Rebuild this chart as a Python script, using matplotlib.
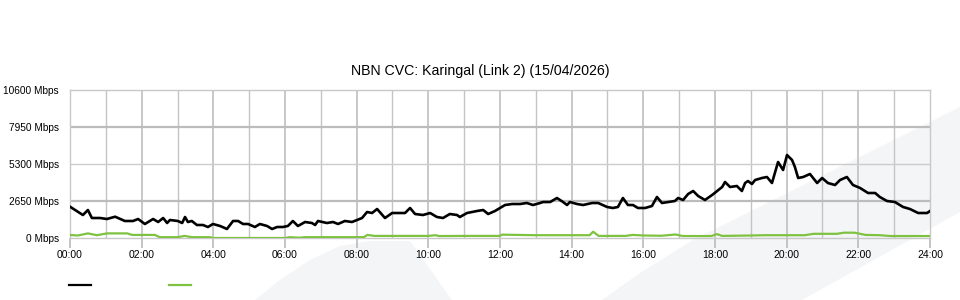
"""plot.py -- NBN CVC utilisation chart for Karingal (Link 2)"""

import matplotlib
matplotlib.use("Agg")
import matplotlib.pyplot as plt
from matplotlib.lines import Line2D
from matplotlib.patches import Polygon

plt.rcParams['font.family'] = ["Liberation Sans", "DejaVu Sans"]

title = "NBN CVC: Karingal (Link 2) (15/04/2026)"

y_ticks = [0, 2650, 5300, 7950, 10600]
y_labels = ["0 Mbps", "2650 Mbps", "5300 Mbps", "7950 Mbps", "10600 Mbps"]
x_ticks = list(range(0, 25, 2))
x_labels = ["{:02d}:00".format(h) for h in x_ticks]

# black series (hours, Mbps)
black_t = [0.00, 0.22, 0.36, 0.50, 0.61, 0.84, 1.03, 1.26, 1.53, 1.76, 1.90, 2.09,
           2.32, 2.46, 2.60, 2.71, 2.79, 3.01, 3.13, 3.21, 3.29, 3.40, 3.54, 3.71,
           3.85, 3.99, 4.19, 4.38, 4.55, 4.69, 4.83, 4.97, 5.16, 5.30, 5.50, 5.64,
           5.78, 5.94, 6.08, 6.22, 6.36, 6.56, 6.75, 6.84, 6.92, 7.17, 7.34, 7.48,
           7.67, 7.87, 8.01, 8.15, 8.29, 8.43, 8.57, 8.79, 8.99, 9.21, 9.35, 9.49,
           9.63, 9.85, 10.05, 10.24, 10.41, 10.60, 10.80, 10.88, 11.08, 11.22, 11.36,
           11.53, 11.67, 11.86, 12.00, 12.14, 12.34, 12.56, 12.75, 12.92, 13.12,
           13.20, 13.40, 13.59, 13.76, 13.87, 13.95, 14.15, 14.32, 14.57, 14.74,
           14.99, 15.15, 15.29, 15.43, 15.57, 15.71, 15.85, 16.05, 16.24, 16.38,
           16.52, 16.69, 16.88, 16.97, 17.11, 17.25, 17.39, 17.53, 17.72, 17.92,
           18.06, 18.20, 18.28, 18.42, 18.61, 18.75, 18.84, 18.92, 19.03, 19.12,
           19.31, 19.45, 19.59, 19.67, 19.76, 19.90, 20.01, 20.15, 20.23, 20.32,
           20.46, 20.65, 20.85, 20.99, 21.15, 21.35, 21.49, 21.68, 21.85, 22.05,
           22.27, 22.47, 22.60, 22.80, 23.02, 23.25, 23.44, 23.67, 23.92, 24.00]
black_v = [2242, 1884, 1647, 2005, 1432, 1432, 1361, 1525, 1218, 1218, 1361, 1003,
           1361, 1146, 1432, 1074, 1289, 1218, 1074, 1504, 1146, 1218, 931, 931,
           788, 1003, 859, 645, 1218, 1218, 1003, 1003, 788, 1003, 859, 645,
           788, 788, 859, 1218, 859, 1146, 1074, 931, 1218, 1074, 1146, 1003,
           1218, 1146, 1289, 1432, 1862, 1790, 2077, 1432, 1790, 1790, 1790, 2149,
           1719, 1647, 1790, 1504, 1432, 1719, 1647, 1504, 1790, 1862, 1934,
           2005, 1719, 1934, 2149, 2363, 2435, 2435, 2507, 2363, 2507,
           2578, 2578, 2865, 2578, 2363, 2578, 2435, 2363, 2507, 2507,
           2220, 2149, 2220, 2865, 2363, 2363, 2149, 2149, 2292, 2936,
           2507, 2578, 2650, 2865, 2722, 3151, 3366, 3008, 2722, 3080,
           3366, 3653, 4011, 3653, 3724, 3366, 3939, 4082, 3867, 4154,
           4297, 4369, 3939, 4655, 5443, 4870, 5944, 5586, 5085, 4297,
           4369, 4584, 3939, 4297, 3939, 3796, 4154, 4369, 3796, 3581,
           3223, 3223, 2936, 2650, 2578, 2220, 2077, 1790, 1790, 1934]

# green series (hours, Mbps)
green_t = [0.00, 0.22, 0.50, 0.75, 1.03, 1.60, 1.73, 2.37, 2.50, 3.00, 3.20, 3.40,
           3.90, 4.00, 6.00, 6.14, 6.40, 6.55, 8.20, 8.30, 8.50, 10.00, 10.20, 10.30,
           11.00, 12.00, 12.05, 13.00, 14.00, 14.50, 14.60, 14.75, 15.50, 15.70,
           16.00, 16.50, 16.90, 17.10, 17.90, 18.05, 18.20, 18.50, 19.00, 19.40,
           20.50, 20.75, 21.40, 21.60, 21.90, 22.20, 22.60, 22.90, 24.00]
green_v = [215, 180, 330, 200, 330, 330, 220, 220, 60, 60, 150, 60,
           60, 0, 0, 60, 20, 60, 60, 220, 150, 150, 200, 140,
           150, 150, 240, 200, 200, 200, 450, 150, 150, 220,
           180, 160, 250, 140, 140, 280, 150, 160, 180, 200,
           200, 300, 300, 380, 380, 220, 200, 140, 140]

W, H = 960, 300
fig = plt.figure(figsize=(9.6, 3.0), dpi=100)

# faint background swooshes (pixel outlines, top-left origin)
swooshes = [
    [(602, 300), (640, 273), (693, 240), (960, 107), (960, 212), (802, 300)],
    [(255, 300), (280, 280), (310, 260), (340, 246), (370, 241), (410, 241), (452, 300)],
]
for pts in swooshes:
    poly = Polygon([(x / W, 1 - y / H) for x, y in pts], closed=True,
                   transform=fig.transFigure, facecolor="#f4f5f7",
                   edgecolor="none", zorder=-5)
    fig.patches.append(poly)

ax = fig.add_axes([70 / W, 1 - 238 / H, 860 / W, 148 / H])
ax.set_zorder(2)
ax.set_facecolor("none")

# grid
for h in range(1, 24):
    ax.axvline(h, color="#c4c4c4", linewidth=1.3 if h % 2 == 0 else 1.0, zorder=1)
for i, yv in enumerate(y_ticks[1:-1]):
    ax.axhline(yv, color="#bcbcbc" if i % 2 == 0 else "#cccccc",
               linewidth=1.6 if i % 2 == 0 else 1.0, zorder=1)

ax.plot(green_t, green_v, color="#7fc241", linewidth=1.6, zorder=3)
ax.plot(black_t, black_v, color="#000000", linewidth=1.9, zorder=4)

ax.set_xlim(0, 24)
ax.set_ylim(0, 10600)
ax.set_xticks(x_ticks)
ax.set_xticklabels(x_labels, fontsize=7.5)
ax.set_yticks(y_ticks)
ax.set_yticklabels(y_labels, fontsize=7.3)
ax.tick_params(axis="x", length=7, color="#bbbbbb", width=1.2, pad=2)
ax.tick_params(axis="y", length=0, pad=8)
for sp in ax.spines.values():
    sp.set_color("#c8c8c8")
    sp.set_linewidth(1.0)

fig.text(0.5, 1 - 71 / H, title, ha="center", va="center", fontsize=10.2)

# legend swatches (no labels)
for x0, col in [(69, "#000000"), (169, "#7fc241")]:
    fig.add_artist(Line2D([x0 / W, (x0 + 22) / W], [1 - 285 / H, 1 - 285 / H],
                          color=col, linewidth=1.6, transform=fig.transFigure))

fig.savefig("out.png", dpi=100)
